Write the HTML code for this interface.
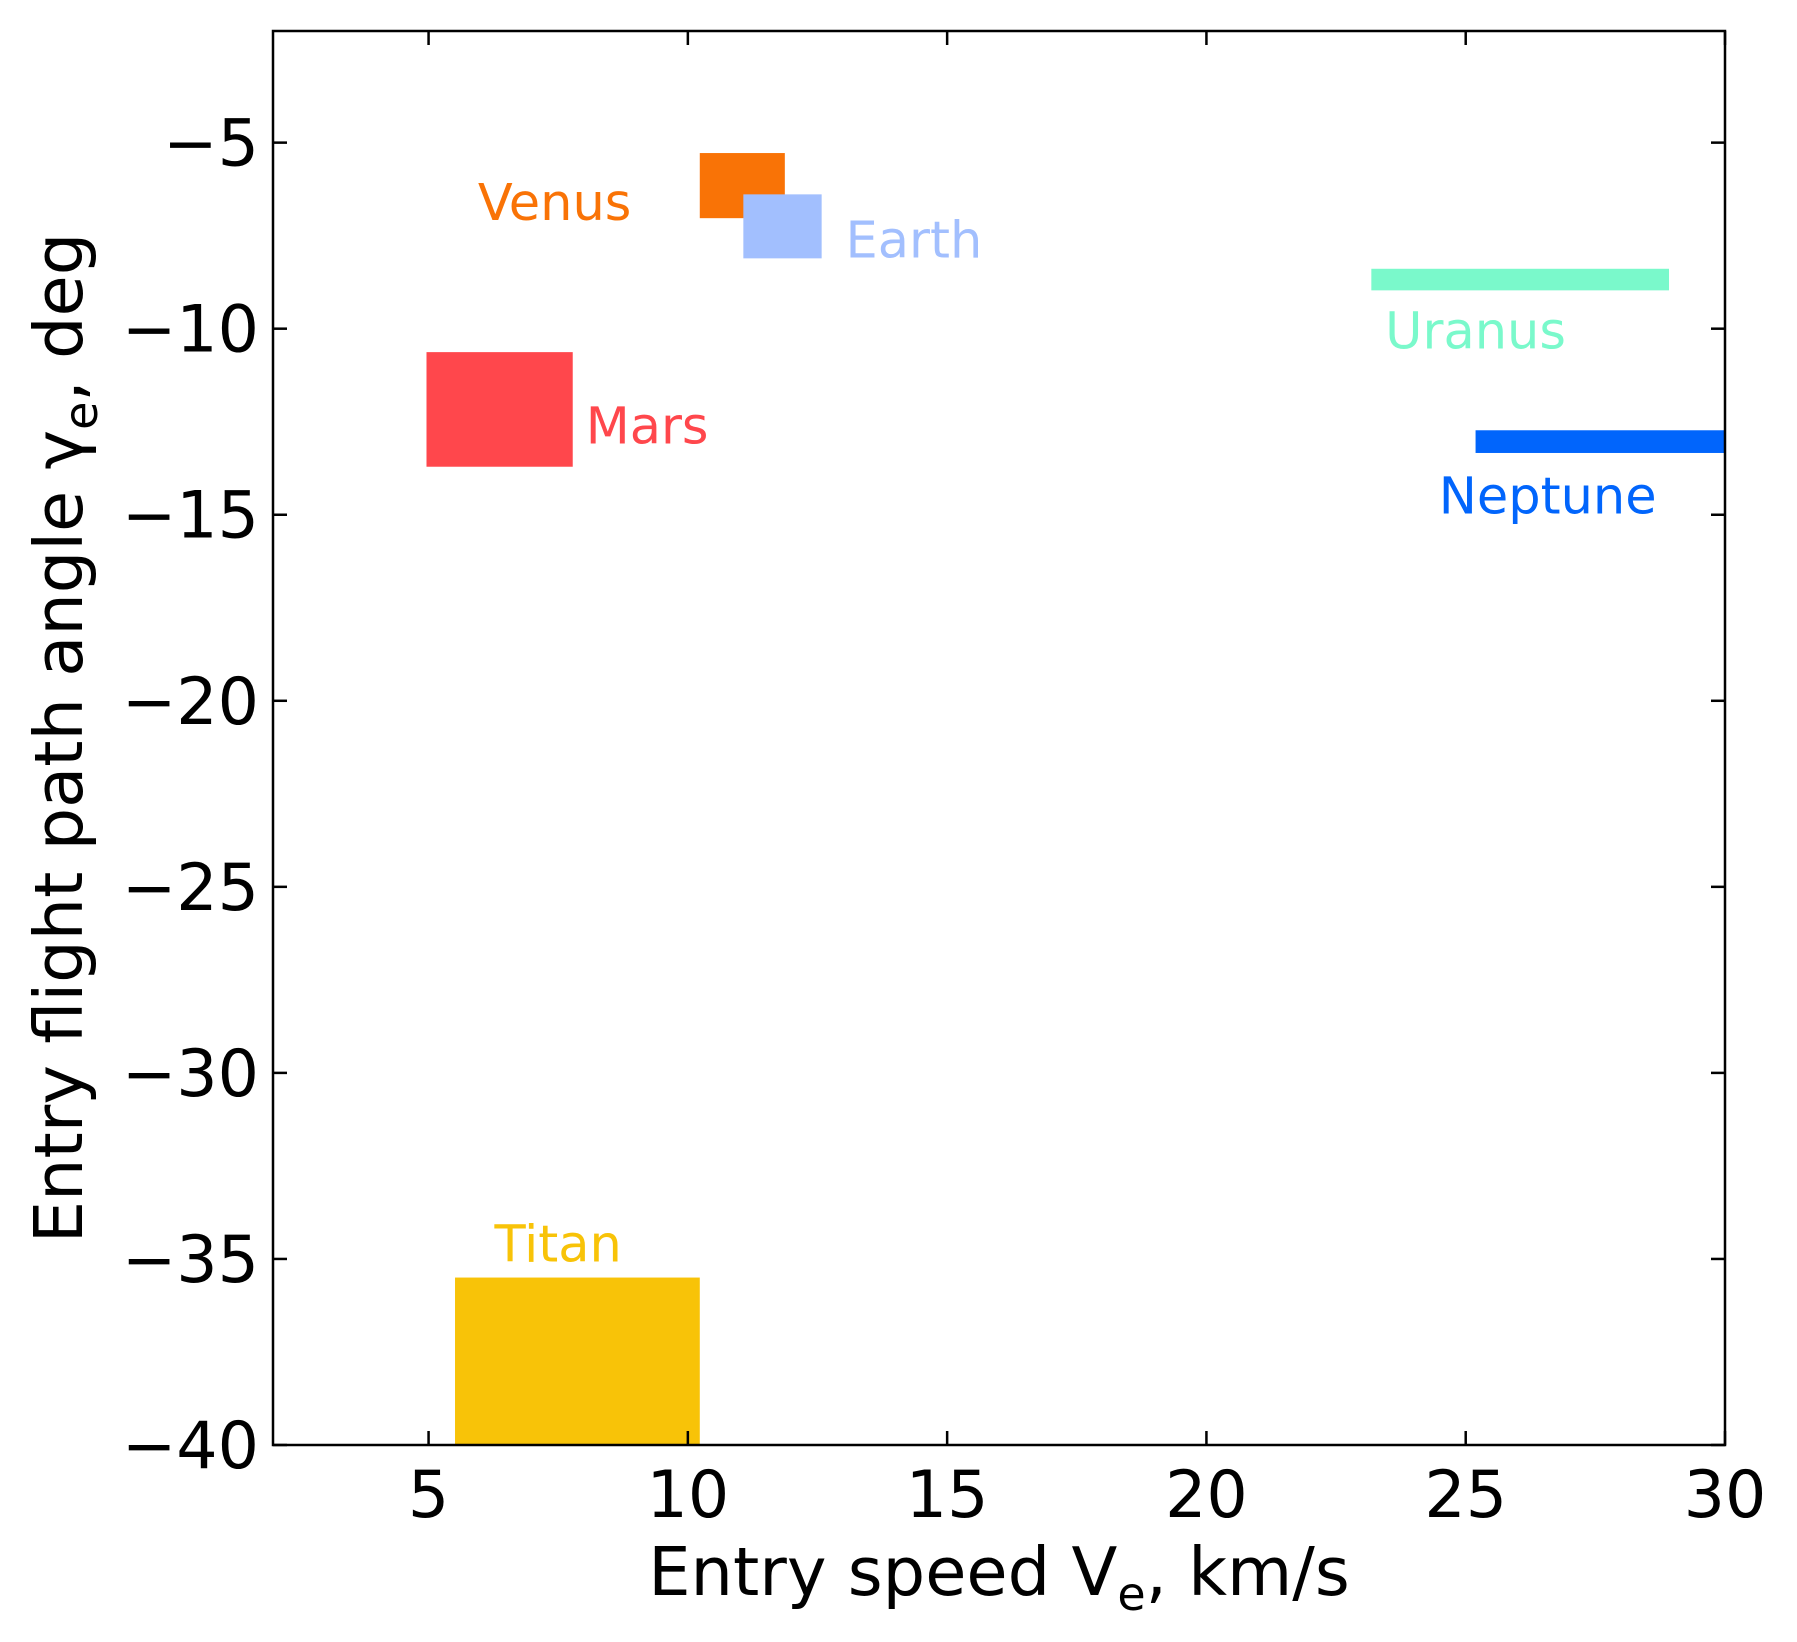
<!DOCTYPE html>
<html><head><meta charset="utf-8"><style>
html,body{margin:0;padding:0;background:#fff;}
svg{display:block;font-family:"DejaVu Sans","Liberation Sans",sans-serif;}
</style></head><body>
<svg id="chart" width="1797" height="1642" viewBox="0 0 1797 1642" xmlns="http://www.w3.org/2000/svg"></svg>
<script>
const planets=["Venus","Earth","Uranus","Neptune","Mars","Titan"];
const colors=["#f97306","#a2bffe","#7af9cb","#0165fc","#ff474c","#f8c308"];
const xMin=[10.23,11.07,23.18,25.19,4.96,5.51];
const xMax=[11.87,12.58,28.92,30,7.78,10.23];
const yMin=[-7.03,-8.11,-8.97,-13.34,-13.71,-40];
const yMax=[-5.28,-6.39,-8.39,-12.73,-10.63,-35.5];
const labelX=[7.43,13.04,25.19,26.58,8.03,7.5];
const labelY=[-6.6,-7.6,-10.05,-14.48,-12.6,-34.58];
const labelAnchor=["middle","start","middle","middle","start","middle"];
const xTicks=[5,10,15,20,25,30];
const yTicks=[-5,-10,-15,-20,-25,-30,-35,-40];
const L=273,R=1725,T=31,B=1445,X0=2,X1=30,Y0=-40,Y1=-2;
const sx=v=>L+(v-X0)/(X1-X0)*(R-L);
const sy=v=>B-(v-Y0)/(Y1-Y0)*(B-T);
const svg=document.getElementById('chart');
const NS="http://www.w3.org/2000/svg";
function mk(t,a,p){const e=document.createElementNS(NS,t);for(const k in a)e.setAttribute(k,a[k]);(p||svg).appendChild(e);return e;}
planets.forEach((p,i)=>{
  const r=mk('rect',{x:sx(xMin[i]),y:sy(yMax[i]),width:sx(xMax[i])-sx(xMin[i]),height:sy(yMin[i])-sy(yMax[i]),fill:colors[i]});
  
  
  const t=mk('text',{x:sx(labelX[i]),y:sy(labelY[i])+18,'text-anchor':labelAnchor[i],'font-size':51,fill:colors[i]});
  t.textContent=p;
  
  
});
xTicks.forEach(v=>{
  const x=sx(v);
  const g=mk('g',{});
  
  
  mk('line',{x1:x,x2:x,y1:B,y2:B-14,stroke:'#000','stroke-width':2.5},g);
  mk('line',{x1:x,x2:x,y1:T,y2:T+14,stroke:'#000','stroke-width':2.5},g);
  const t=mk('text',{x:x,y:B+72,'text-anchor':'middle','font-size':65},g);t.textContent=v;
});
yTicks.forEach(v=>{
  const y=sy(v);
  const g=mk('g',{});
  
  
  mk('line',{x1:L,x2:L+14,y1:y,y2:y,stroke:'#000','stroke-width':2.5},g);
  mk('line',{x1:R,x2:R-14,y1:y,y2:y,stroke:'#000','stroke-width':2.5},g);
  const t=mk('text',{x:L-14,y:y+23,'text-anchor':'end','font-size':65},g);t.textContent=String(v).replace('-','\u2212');
});
const fr=mk('rect',{x:L,y:T,width:R-L,height:B-T,fill:'none',stroke:'#000','stroke-width':2.5});


const xl=mk('text',{x:(L+R)/2,y:1595,'text-anchor':'middle','font-size':67});


xl.innerHTML='Entry speed V<tspan font-size="46" dy="15">e</tspan><tspan dy="-15">, km/s</tspan>';
const yl=mk('text',{x:0,y:0,'text-anchor':'middle','font-size':67,transform:'translate(82,'+((T+B)/2)+') rotate(-90)'});


yl.innerHTML='Entry flight path angle γ<tspan font-size="46" dy="15">e</tspan><tspan dy="-15">, deg</tspan>';
</script>
</body></html>
